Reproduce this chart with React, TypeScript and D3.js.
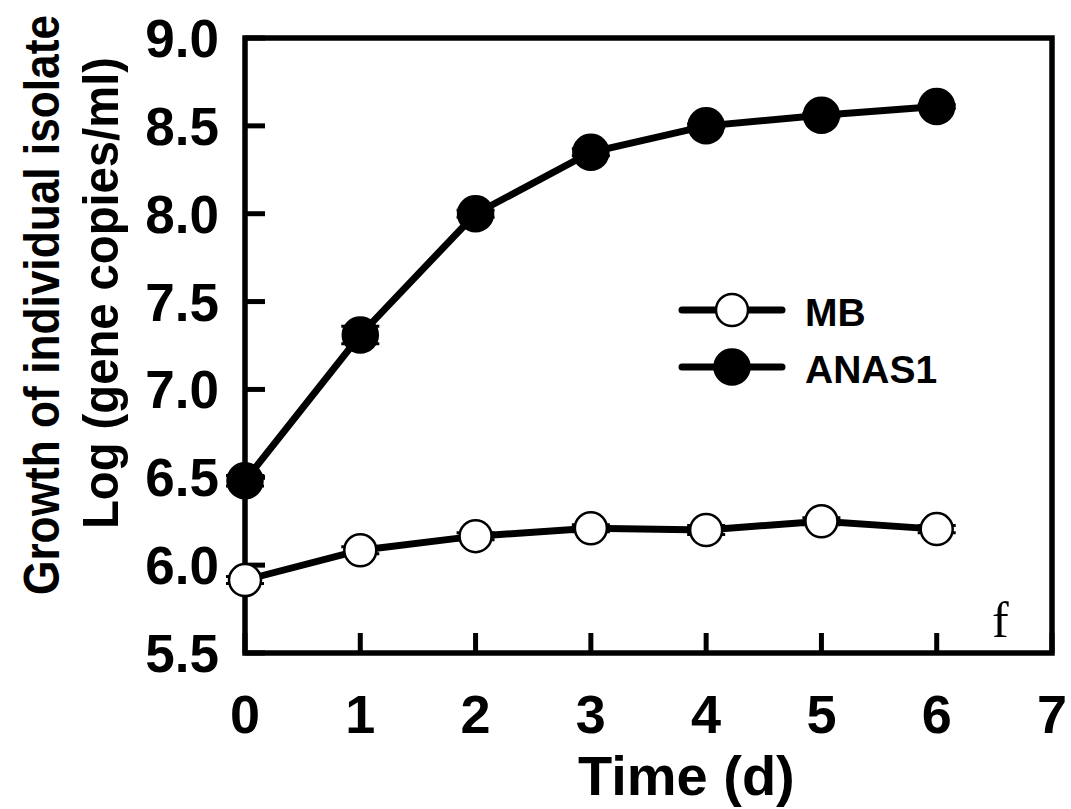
import React from "react";
import * as d3 from "d3";

const days = [0, 1, 2, 3, 4, 5, 6];
const mbValues = [5.915, 6.085, 6.165, 6.21, 6.2, 6.25, 6.205];
const mbErrors = [0.02, 0.02, 0.02, 0.02, 0.025, 0.02, 0.02];
const anasValues = [6.48, 7.31, 8.0, 8.35, 8.5, 8.56, 8.61];
const anasErrors = [0.03, 0.05, 0.02, 0.02, 0.01, 0.01, 0.01];
const xTicks = [0, 1, 2, 3, 4, 5, 6, 7];
const yTicks = [5.5, 6.0, 6.5, 7.0, 7.5, 8.0, 8.5, 9.0];

const W = 1071, H = 809;
const L = 245, R = 1052, T = 38, B = 653;
const font = "'Liberation Sans', Arial, sans-serif";

export default function App() {
  const x = d3.scaleLinear().domain([0, 7]).range([L, R]);
  const y = d3.scaleLinear().domain([5.5, 9.0]).range([B, T]);
  const line = d3.line<number>().x((_, i) => x(days[i])).y((d) => y(d));

  const series = [
    { name: "MB", vals: mbValues, errs: mbErrors, fill: "#fff", r: 16 },
    { name: "ANAS1", vals: anasValues, errs: anasErrors, fill: "#000", r: 17.5 },
  ];

  return (
    <svg width={W} height={H} style={{ position: "absolute", left: 0, top: 0, background: "#fff" }}>
      <rect x={0} y={0} width={W} height={H} fill="#fff" />
      {/* ticks */}
      {yTicks.map((t) => (
        <g key={"y" + t}>
          <line x1={L} x2={L + 20} y1={y(t)} y2={y(t)} stroke="#000" strokeWidth={5} />
          <text x={219} y={y(t) + 19} textAnchor="end" fontFamily={font} fontWeight="bold" fontSize={53}>
            {t.toFixed(1)}
          </text>
        </g>
      ))}
      {xTicks.map((t) => (
        <g key={"x" + t}>
          <line x1={x(t)} x2={x(t)} y1={B} y2={B - 20} stroke="#000" strokeWidth={5} />
          <text x={x(t)} y={733} textAnchor="middle" fontFamily={font} fontWeight="bold" fontSize={54}>
            {t}
          </text>
        </g>
      ))}
      {/* frame */}
      <rect x={L} y={T} width={R - L} height={B - T} fill="none" stroke="#000" strokeWidth={5.5} />
      {/* series */}
      {series.map((s) => (
        <g key={s.name}>
          <path d={line(s.vals) || ""} fill="none" stroke="#000" strokeWidth={7} />
          {s.vals.map((v, i) => (
            <g key={i}>
              <line x1={x(days[i])} x2={x(days[i])} y1={y(v - s.errs[i])} y2={y(v + s.errs[i])} stroke="#000" strokeWidth={3} />
              <line x1={x(days[i]) - 19} x2={x(days[i]) + 19} y1={y(v - s.errs[i])} y2={y(v - s.errs[i])} stroke="#000" strokeWidth={3} />
              <line x1={x(days[i]) - 19} x2={x(days[i]) + 19} y1={y(v + s.errs[i])} y2={y(v + s.errs[i])} stroke="#000" strokeWidth={3} />
            </g>
          ))}
          {s.vals.map((v, i) => (
            <circle key={"c" + i} cx={x(days[i])} cy={y(v)} r={s.r} fill={s.fill} stroke="#000" strokeWidth={2.5} />
          ))}
        </g>
      ))}
      {/* legend */}
      {series.map((s, i) => {
        const cy = 310 + i * 57;
        return (
          <g key={"lg" + s.name}>
            <line x1={682} x2={782} y1={cy} y2={cy} stroke="#000" strokeWidth={7} strokeLinecap="round" />
            <circle cx={732} cy={cy} r={s.r} fill={s.fill} stroke="#000" strokeWidth={2.5} />
            <text x={805} y={cy + 16} fontFamily={font} fontWeight="bold" fontSize={39}>
              {s.name}
            </text>
          </g>
        );
      })}
      <text x={992} y={637} fontFamily="'Liberation Serif', 'Times New Roman', serif" fontSize={50}>
        f
      </text>
      {/* axis titles */}
      <text x={578} y={795} fontFamily={font} fontWeight="bold" fontSize={56}>
        Time (d)
      </text>
      <text transform="translate(59,305) rotate(-90)" textAnchor="middle" fontFamily={font} fontWeight="bold" fontSize={50}
        textLength={580} lengthAdjust="spacingAndGlyphs">
        Growth of individual isolate
      </text>
      <text transform="translate(118,293) rotate(-90)" textAnchor="middle" fontFamily={font} fontWeight="bold" fontSize={50}
        textLength={472} lengthAdjust="spacingAndGlyphs">
        Log (gene copies/ml)
      </text>
    </svg>
  );
}
